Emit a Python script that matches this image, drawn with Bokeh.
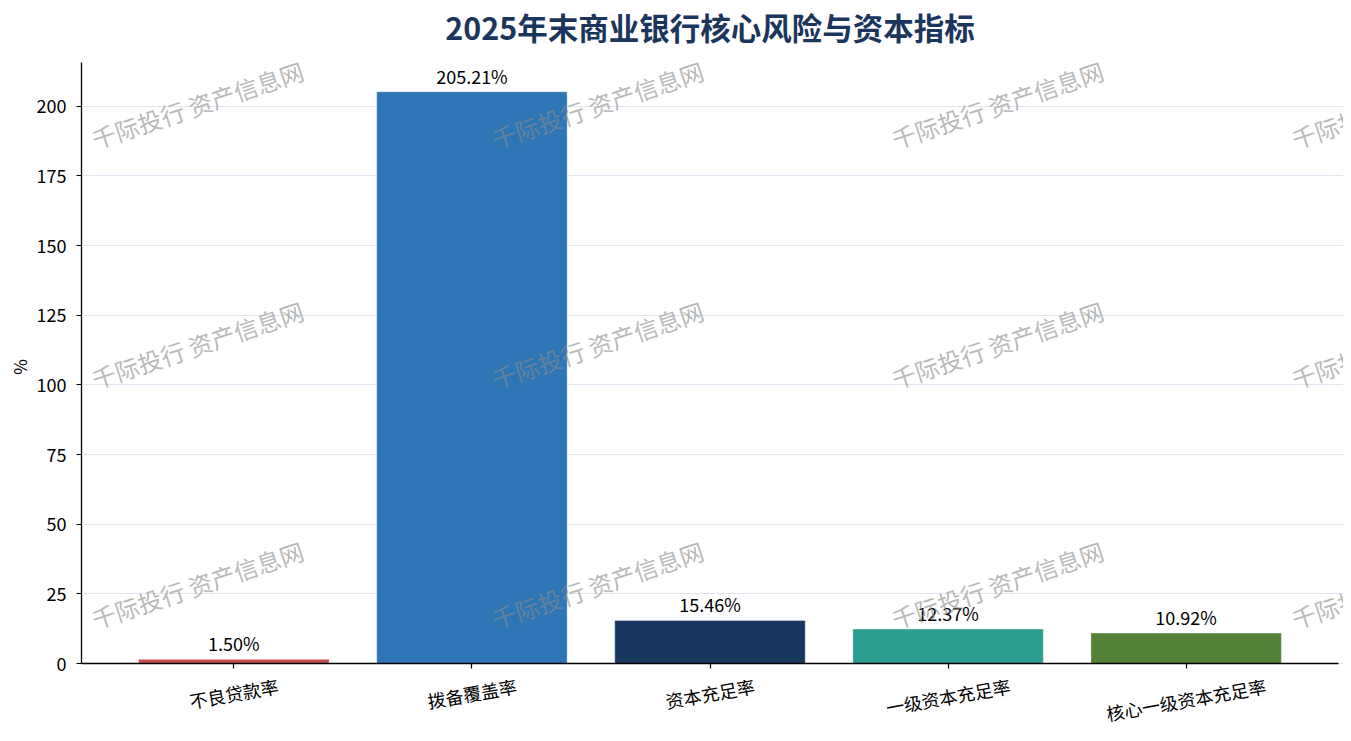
import math
from bokeh.plotting import figure
from bokeh.models import Range1d, FixedTicker, ColumnDataSource, Label
from bokeh.embed import file_html
from bokeh.resources import INLINE
from bokeh.core.properties import value

# ---- data ----
categories = ["不良贷款率", "拨备覆盖率", "资本充足率", "一级资本充足率", "核心一级资本充足率"]
values = [1.50, 205.21, 15.46, 12.37, 10.92]
colors = ["#c44e52", "#2e75b6", "#17375e", "#2a9d8f", "#538135"]
y_ticks = [0, 25, 50, 75, 100, 125, 150, 175, 200]
y_max = 215.7
title_text = "2025年末商业银行核心风险与资本指标"
y_label = "%"
watermark_text = "千际投行 资产信息网"

FONT = "Noto Sans CJK SC"

# ---- layout (pixels within the figure) ----
W, H = 1343, 733
LEFT = 81            # frame left / y axis line
AX_RIGHT = 1338      # right end of x axis line
ZERO_Y = 663         # pixel row of value 0
TOP_Y = 62           # pixel row of y_max (top of y axis line)
TITLE_Y = 26
LABEL_PX = 18
LABEL_ANGLE = math.radians(10)
WM_ANGLE = math.radians(18.5)
wm_cols = [197, 597, 997, 1397]   # watermark centres, figure pixels
wm_rows = [104, 344, 584]

ppu = (ZERO_Y - TOP_Y) / y_max
x_lo, x_hi = -0.64, len(categories) - 1 + 0.64
ppx = (AX_RIGHT - LEFT) / (x_hi - x_lo)
x_end = x_hi + (W - AX_RIGHT) / ppx

xs = list(range(len(categories)))
value_labels = [f"{v:.2f}%" for v in values]
src = ColumnDataSource(dict(x=xs, top=values, color=colors, label=value_labels))

p = figure(width=W, height=H, output_backend="svg", toolbar_location=None,
           x_range=Range1d(x_lo, x_end),
           y_range=Range1d(-(H - ZERO_Y) / ppu, y_max + TOP_Y / ppu),
           min_border_left=LEFT, min_border_right=0, min_border_top=0, min_border_bottom=0)
p.outline_line_color = None
p.background_fill_color = "white"

p.vbar(x="x", top="top", bottom=0, width=0.8, fill_color="color",
       line_color="white", line_width=0.6, line_alpha=0.6, source=src)

p.text(x="x", y="top", text="label", source=src, text_align="center",
       text_baseline="bottom", y_offset=-3, text_font=value(FONT),
       text_font_size="18px", text_color="black")

# ---- axes ----
p.xaxis.fixed_location = 0
p.xaxis.bounds = (x_lo, x_hi)
p.xaxis.ticker = FixedTicker(ticks=xs)
p.xaxis.major_label_overrides = {i: "" for i in xs}
p.xaxis.major_label_text_font_size = "1px"
p.yaxis.bounds = (0, y_max)
p.yaxis.ticker = FixedTicker(ticks=y_ticks)
p.yaxis.axis_label = y_label
p.yaxis.major_label_text_font = FONT
p.yaxis.major_label_text_font_size = "18px"
p.yaxis.major_label_text_color = "black"
p.yaxis.major_label_standoff = 10
for ax in (p.xaxis[0], p.yaxis[0]):
    ax.axis_line_color = "black"
    ax.axis_line_width = 1.3
    ax.major_tick_line_color = "black"
    ax.major_tick_line_width = 1.2
    ax.major_tick_in = 0
    ax.major_tick_out = 5
    ax.minor_tick_line_color = None
p.yaxis.axis_label_text_font = FONT
p.yaxis.axis_label_text_font_size = "17px"
p.yaxis.axis_label_text_font_style = "normal"
p.yaxis.axis_label_text_color = "black"
p.yaxis.axis_label_standoff = 2

p.xgrid.visible = False
p.ygrid.grid_line_color = "#dfe6f2"
p.ygrid.grid_line_width = 1

# ---- category labels (rotated, top of rotated box just below the ticks) ----
cat_offsets = []
for cat in categories:
    box_h = len(cat) * LABEL_PX * math.sin(LABEL_ANGLE) + LABEL_PX * math.cos(LABEL_ANGLE)
    cat_offsets.append(13 + box_h / 2)
cat_src = ColumnDataSource(dict(x=xs, y=[0] * len(xs), text=categories, dy=cat_offsets))
p.text(x="x", y="y", text="text", y_offset="dy", angle=LABEL_ANGLE, source=cat_src,
       text_align="center", text_baseline="middle", text_font=value(FONT),
       text_font_size=f"{LABEL_PX}px", text_color="black")

# ---- title ----
p.add_layout(Label(x=(LEFT + AX_RIGHT) / 2 - LEFT, y=H - TITLE_Y, x_units="screen", y_units="screen",
                   text=title_text, text_align="center", text_baseline="middle",
                   text_font=FONT, text_font_size="30.5px", text_font_style="bold",
                   text_color="#1b365d"))

# ---- watermark ----
for cx in wm_cols:
    for cy in wm_rows:
        p.add_layout(Label(x=cx - LEFT, y=H - cy, x_units="screen", y_units="screen",
                           text=watermark_text, angle=WM_ANGLE,
                           text_align="center", text_baseline="middle",
                           text_font=FONT, text_font_size="24px",
                           text_color="#8a8a8a", text_alpha=0.62))

open("out.html", "w").write(file_html(p, INLINE))
